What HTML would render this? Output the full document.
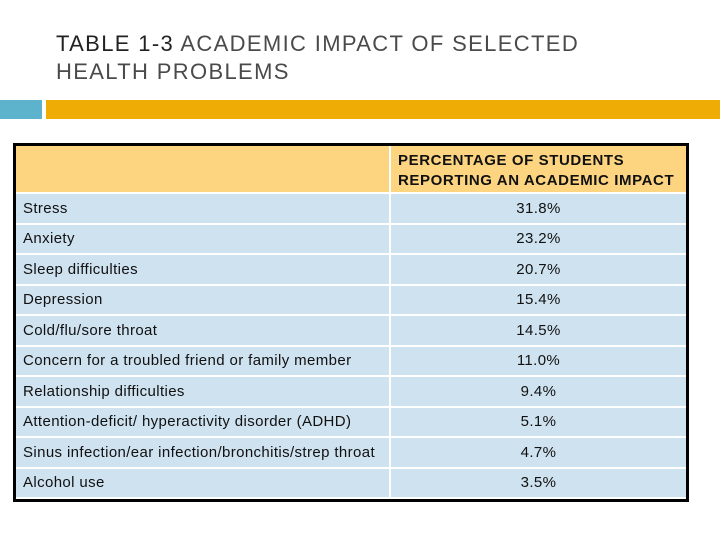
<!DOCTYPE html>
<html><head><meta charset="utf-8"><style>
body{margin:0;width:720px;height:540px;background:#fff;position:relative;overflow:hidden;font-family:"Liberation Sans",Arial,sans-serif}
#title{position:absolute;left:56px;top:30px;font-size:22px;line-height:28px;color:#4a4a4a;letter-spacing:1.35px}
.bar{position:absolute;top:100px;height:19px}
#table{position:absolute;left:13px;top:143px;width:670px;height:353px;border:3px solid #000;background:#fff}
.cell{position:absolute;box-sizing:border-box;font-size:15px;letter-spacing:0.38px;color:#111;display:flex;align-items:center}
</style></head><body>
<div id="title"><span style="color:#222">TABLE 1-3</span> ACADEMIC IMPACT OF SELECTED<br>HEALTH PROBLEMS</div>
<div class="bar" style="left:0;width:42px;background:#5eb3cc"></div>
<div class="bar" style="left:46px;width:674px;background:#efac04"></div>
<div id="table"></div>
<script>
const problems=["Stress","Anxiety","Sleep difficulties","Depression","Cold/flu/sore throat","Concern for a troubled friend or family member","Relationship difficulties","Attention-deficit/ hyperactivity disorder (ADHD)","Sinus infection/ear infection/bronchitis/strep throat","Alcohol use"];
const percents=["31.8%","23.2%","20.7%","15.4%","14.5%","11.0%","9.4%","5.1%","4.7%","3.5%"];
const t=document.getElementById('table');
function cell(x,y,w,h,bg,html,center,bold){const d=document.createElement('div');d.className='cell';
d.style.cssText+=`left:${x}px;top:${y}px;width:${w}px;height:${h}px;background:${bg};`+(center?'justify-content:center;':'padding-left:7px;')+(bold?'font-weight:bold;padding-left:7px;padding-top:3px;line-height:20px;letter-spacing:0.6px;':'');
d.innerHTML=html;t.appendChild(d);return d;}
let h1=cell(0,0,373,46,'#fdd580','',false,false);


let h2=cell(375,0,295,46,'#fdd580','PERCENTAGE OF STUDENTS<br>REPORTING AN ACADEMIC IMPACT',false,true);


problems.forEach((p,i)=>{const y=48+i*30.5;
const a=cell(0,y,373,28.5,'#cfe2f0',p,false,false);


const b=cell(375,y,295,28.5,'#cfe2f0',percents[i],true,false);

});
</script>
</body></html>
